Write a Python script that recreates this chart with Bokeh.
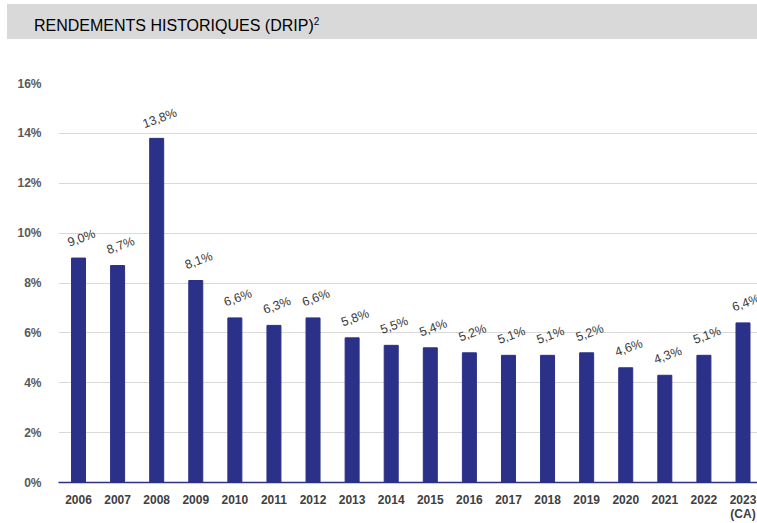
from bokeh.plotting import figure
from bokeh.models import Div, FixedTicker, Range1d, PrintfTickFormatter, ColumnDataSource
from bokeh.layouts import column
from bokeh.embed import file_html
from bokeh.resources import INLINE
from bokeh.core.properties import value

# ---- data ----
years = ["2006", "2007", "2008", "2009", "2010", "2011", "2012", "2013", "2014",
         "2015", "2016", "2017", "2018", "2019", "2020", "2021", "2022", "2023"]
tick_labels = years[:-1] + ["2023\n(CA)"]
yields = [9.0, 8.7, 13.8, 8.1, 6.6, 6.3, 6.6, 5.8, 5.5, 5.4, 5.2, 5.1, 5.1, 5.2,
          4.6, 4.3, 5.1, 6.4]
y_ticks = [0, 2, 4, 6, 8, 10, 12, 14, 16]
title_text = "RENDEMENTS HISTORIQUES (DRIP)"
title_sup = "2"

BAR = "#2b3088"
FONT = "Liberation Sans"

idx = list(range(len(years)))
labels = [("%.1f" % v).replace(".", ",") + "%" for v in yields]
src = ColumnDataSource(dict(x=idx, y=yields, lab=labels))

title = Div(
    text=f'{title_text}<sup style="font-size:10px">{title_sup}</sup>',
    width=750, height=35, margin=(4, 0, 0, 7),
    styles={"background-color": "#d9d9d9", "font-family": FONT, "font-size": "16px",
            "color": "#000000", "padding-left": "27px", "line-height": "35px",
            "box-sizing": "border-box", "width": "750px", "height": "35px"},
)

p = figure(width=757, height=484, output_backend="svg", toolbar_location=None,
           x_range=Range1d(-0.512, 17.371), y_range=Range1d(0, 16),
           min_border_left=58, min_border_right=0, min_border_top=44, min_border_bottom=34,
           margin=(0, 0, 0, 0))
p.outline_line_color = None
p.background_fill_color = "white"
p.border_fill_color = "white"

p.vbar(x="x", top="y", width=0.358, source=src, fill_color=BAR, line_color=BAR)
p.text(x="x", y="y", text="lab", source=src, angle=0.35, text_align="center",
       text_baseline="middle", x_offset=3, y_offset=-20, text_font=value(FONT),
       text_font_size="12.5px", text_color="#3a3a3a")

p.xgrid.visible = False
p.ygrid.grid_line_color = "#d9d9d9"
p.ygrid.ticker = FixedTicker(ticks=y_ticks)

p.yaxis.ticker = FixedTicker(ticks=y_ticks)
p.yaxis.formatter = PrintfTickFormatter(format="%d%%")
p.yaxis.axis_line_color = None
p.yaxis.major_tick_line_color = None
p.yaxis.minor_tick_line_color = None
p.yaxis.major_label_standoff = 11
p.yaxis.major_label_text_font = FONT
p.yaxis.major_label_text_font_style = "bold"
p.yaxis.major_label_text_font_size = "12px"
p.yaxis.major_label_text_color = "#595959"

p.xaxis.ticker = FixedTicker(ticks=idx)
p.xaxis.major_label_overrides = {i: t for i, t in zip(idx, tick_labels)}
p.xaxis.axis_line_color = BAR
p.xaxis.axis_line_width = 1.5
p.xaxis.major_tick_line_color = None
p.xaxis.minor_tick_line_color = None
p.xaxis.major_label_standoff = 4
p.xaxis.major_label_text_font = FONT
p.xaxis.major_label_text_font_style = "bold"
p.xaxis.major_label_text_font_size = "12px"
p.xaxis.major_label_text_line_height = 1.0
p.xaxis.major_label_text_color = "#404040"

layout = column(title, p, spacing=0)
open("out.html", "w").write(file_html(layout, INLINE))
